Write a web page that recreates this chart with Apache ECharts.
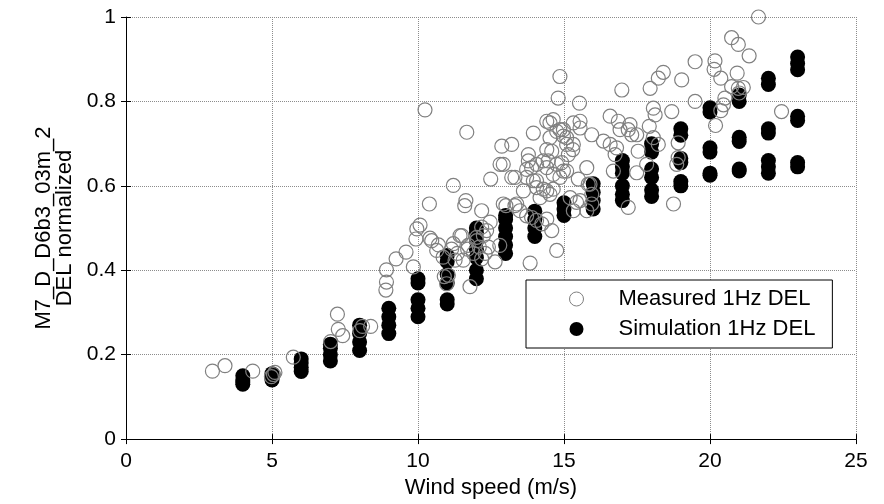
<!DOCTYPE html>
<html>
<head>
<meta charset="utf-8">
<script src="https://cdn.jsdelivr.net/npm/echarts@6/dist/echarts.min.js"></script>
<style>
html,body{margin:0;padding:0;background:#fff;}
#chart{width:884px;height:504px;}
</style>
</head>
<body>
<div id="chart"></div>
<script>
// ---- data ----
const xTicks = [0, 5, 10, 15, 20, 25];
const yTicks = [0, 0.2, 0.4, 0.6, 0.8, 1];

const measuredWind = [
  2.96,3.39,4.34,5.05,4.98,5.1,5.73,7.01,7.24,7.27,7.42,8.01,8.1,8.38,8.9,8.92,8.92,9.25,9.59,9.84,9.93,9.96,
  10.47,10.64,10.86,11.04,10.98,11.27,11.5,11.55,11.78,12.01,12.18,12.41,12.64,12.8,13.84,14.58,14.75,10.7,11.15,11.35,11.7,11.9,12.1,12.3,10.9,
  10.24,11.67,11.21,10.39,11.64,11.6,10.07,10.41,11.21,11.44,12.18,12.47,12.49,12.87,12.92,13.21,13.21,13.01,13.38,13.72,13.78,13.61,13.89,13.95,
  14.06,14.18,14.29,14.41,14.52,14.63,14.52,14.58,14.75,14.75,14.86,14.8,14.98,14.92,15.09,15.09,15.3,15.32,15.53,15.55,15.55,14.63,14.52,14.29,
  15.49,15.78,15.95,15.89,15.95,15.78,15.43,15.32,16.35,16.58,16.58,16.69,16.86,16.98,16.92,16.8,16.75,17.2,17.32,17.26,17.49,17.54,17.49,17.2,
  17.83,17.95,17.92,18.06,18.12,18.06,18.23,18.23,18.4,18.69,19.03,18.91,18.91,18.86,18.75,19.49,19.49,
  21.66,20.74,20.97,21.34,20.17,20.14,20.37,20.93,20.74,20.97,21.14,21.0,20.51,20.46,20.37,22.45,20.19,
  13.78,14.41,14.86,14.98,15.09,15.32,15.15,14.46,14.98,14.06,14.41,14.63,13.32,13.72,13.95,14.06,14.41,14.86,15.21,15.55,15.95,15.83,
  12.92,13.32,13.49,13.72,13.89,14.06,14.24,14.41,12.81,12.18,12.35,12.01,12.24,11.72
];
const measuredDel = [
  0.161,0.174,0.161,0.153,0.148,0.158,0.194,0.231,0.296,0.26,0.245,0.257,0.267,0.267,0.353,0.372,0.401,0.427,0.443,0.408,0.474,0.498,
  0.47,0.447,0.431,0.388,0.368,0.424,0.482,0.424,0.361,0.47,0.427,0.455,0.42,0.459,0.417,0.494,0.447,0.46,0.45,0.44,0.45,0.44,0.455,0.44,0.385,
  0.78,0.727,0.601,0.557,0.565,0.553,0.507,0.476,0.463,0.482,0.541,0.514,0.616,0.694,0.651,0.698,0.62,0.553,0.557,0.639,0.659,0.588,0.643,0.725,
  0.612,0.572,0.659,0.686,0.749,0.757,0.714,0.682,0.729,0.651,0.859,0.808,0.733,0.655,0.714,0.635,0.686,0.749,0.796,0.753,0.737,0.592,0.58,0.592,
  0.616,0.643,0.721,0.604,0.58,0.541,0.561,0.541,0.706,0.765,0.698,0.635,0.753,0.827,0.733,0.69,0.674,0.733,0.721,0.745,0.721,0.682,0.631,0.549,
  0.651,0.831,0.741,0.784,0.768,0.714,0.698,0.855,0.869,0.776,0.851,0.702,0.667,0.651,0.557,0.894,0.8,
  1.0,0.951,0.935,0.908,0.896,0.876,0.855,0.867,0.835,0.831,0.833,0.82,0.808,0.792,0.778,0.776,0.743,
  0.674,0.753,0.733,0.718,0.698,0.698,0.674,0.659,0.635,0.651,0.643,0.627,0.62,0.62,0.612,0.596,0.588,0.62,0.572,0.565,0.557,0.604,
  0.557,0.553,0.541,0.529,0.525,0.518,0.51,0.521,0.651,0.502,0.494,0.478,0.482,0.459
];

const simSpeeds = [4,5,6,7,8,9,10,11,12,13,14,15,16,17,18,19,20,21,22,23];
const simDelBySpeed = [
  [0.13,0.135,0.14,0.15],
  [0.14,0.145,0.15,0.155],
  [0.16,0.17,0.18,0.19],
  [0.185,0.20,0.215,0.225],
  [0.21,0.23,0.25,0.27],
  [0.25,0.27,0.29,0.31],
  [0.29,0.31,0.33,0.37,0.38],
  [0.32,0.33,0.37,0.39,0.42,0.435],
  [0.38,0.40,0.43,0.45,0.47,0.49,0.50],
  [0.44,0.46,0.48,0.50,0.52,0.53],
  [0.48,0.50,0.52,0.54],
  [0.53,0.545,0.56],
  [0.545,0.565,0.585,0.605],
  [0.565,0.58,0.60,0.63,0.645,0.66],
  [0.575,0.59,0.62,0.64,0.68,0.70],
  [0.60,0.61,0.655,0.665,0.72,0.735],
  [0.625,0.63,0.68,0.69,0.775,0.785],
  [0.635,0.64,0.705,0.715,0.80,0.815],
  [0.63,0.645,0.66,0.725,0.735,0.84,0.855],
  [0.645,0.655,0.755,0.765,0.875,0.89,0.905]
];

const measuredName = 'Measured 1Hz DEL';
const simName = 'Simulation 1Hz DEL';
const xTitle = 'Wind speed (m/s)';
const yTitle = 'M7_D_D6b3_03m_2\nDEL normalized';

// ---- build ----
const measuredData = measuredWind.map((w, i) => [w, measuredDel[i]]);
const simData = [];
simSpeeds.forEach((s, i) => simDelBySpeed[i].forEach(v => simData.push([s, v])));

const FONT = '"Liberation Sans", Arial, sans-serif';
const gridLine = { show: true, lineStyle: { color: '#8c8c8c', type: 'dotted', width: 1 } };

const chart = echarts.init(document.getElementById('chart'), null, { renderer: 'canvas' });
chart.setOption({
  backgroundColor: '#ffffff',
  animation: false,
  textStyle: { fontFamily: FONT },
  grid: { left: 126, right: 28, top: 17, bottom: 61, containLabel: false },
  legend: {
    data: [
      { name: measuredName, icon: 'circle', itemStyle: { color: '#fff', borderColor: '#808080', borderWidth: 1 } },
      { name: simName, icon: 'circle', itemStyle: { color: '#000' } }
    ],
    orient: 'vertical',
    left: 526, top: 280,
    padding: [8, 17, 8, 43],
    itemGap: 8,
    itemWidth: 14, itemHeight: 14,
    backgroundColor: '#fff',
    borderColor: '#000', borderWidth: 1,
    textStyle: { fontSize: 22, color: '#000', fontFamily: FONT, lineHeight: 22, padding: [0, 0, 0, 30] }
  },
  xAxis: [{
    type: 'value', min: 0, max: 25, interval: 5,
    name: xTitle, nameLocation: 'middle', nameGap: 37,
    nameTextStyle: { fontSize: 22, color: '#000', fontFamily: FONT },
    axisLine: { show: true, lineStyle: { color: '#000', width: 1 } },
    axisTick: { show: true, inside: true, length: 5, lineStyle: { color: '#000' } },
    axisLabel: { fontSize: 21, color: '#000', margin: 12, fontFamily: FONT },
    splitLine: gridLine
  }, {
    type: 'value', min: 0, max: 25, interval: 5, position: 'top',
    axisLine: { show: false },
    axisTick: { show: true, inside: true, length: 5, lineStyle: { color: '#000' } },
    axisLabel: { show: false }, splitLine: { show: false }
  }],
  yAxis: [{
    type: 'value', min: 0, max: 1, interval: 0.2,
    name: yTitle, nameLocation: 'middle', nameGap: 46, nameRotate: 90,
    nameTextStyle: { fontSize: 22, color: '#000', fontFamily: FONT, lineHeight: 21 },
    axisLine: { show: true, lineStyle: { color: '#000', width: 1 } },
    axisTick: { show: true, inside: true, length: 5, lineStyle: { color: '#000' } },
    axisLabel: { fontSize: 21, color: '#000', margin: 10, fontFamily: FONT },
    splitLine: gridLine
  }, {
    type: 'value', min: 0, max: 1, interval: 0.2, position: 'right',
    axisLine: { show: false },
    axisTick: { show: true, inside: true, length: 5, lineStyle: { color: '#000' } },
    axisLabel: { show: false }, splitLine: { show: false }
  }],
  series: [{
    name: simName, type: 'scatter', data: simData,
    symbol: 'circle', symbolSize: 15,
    itemStyle: { color: '#000', opacity: 1 },
    z: 2
  }, {
    name: measuredName, type: 'scatter', data: measuredData,
    symbol: 'circle', symbolSize: 14,
    itemStyle: { color: 'rgba(255,255,255,0)', borderColor: '#808080', borderWidth: 1.2, opacity: 1 },
    z: 3
  }]
});
</script>
</body>
</html>
